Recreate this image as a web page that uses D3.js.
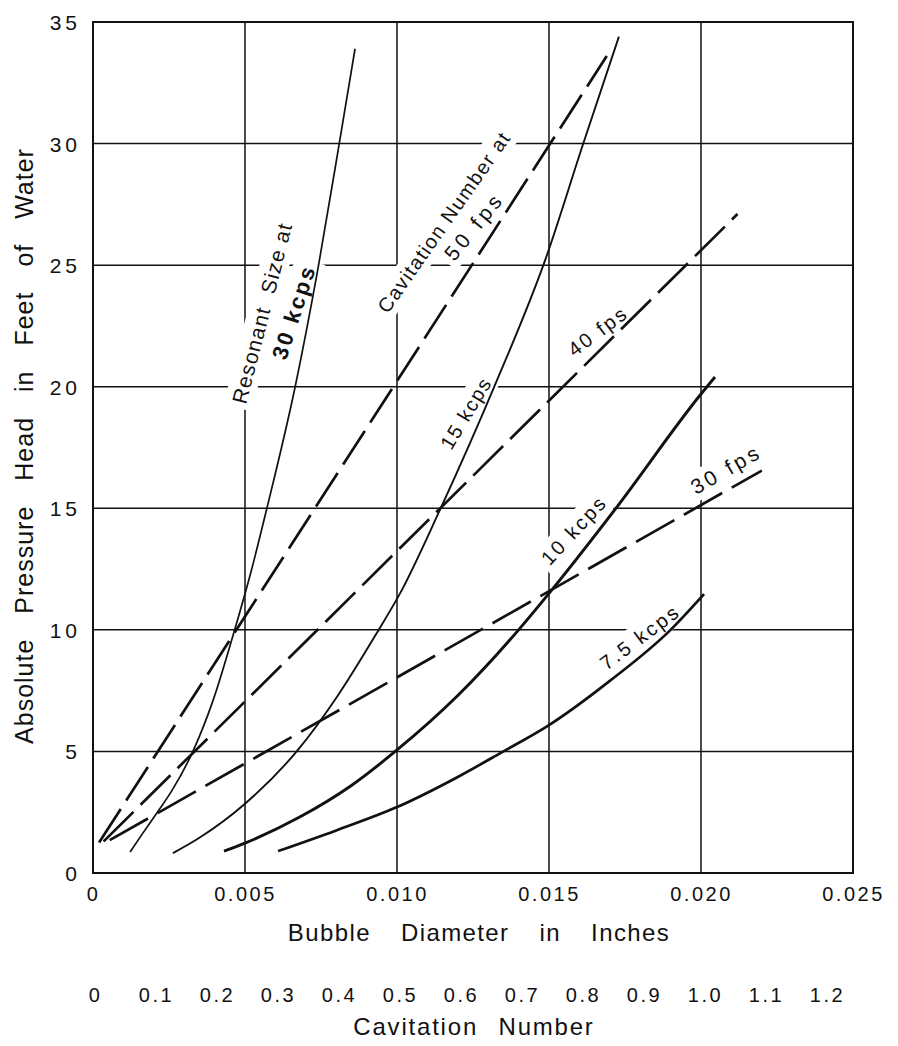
<!DOCTYPE html>
<html>
<head>
<meta charset="utf-8">
<script src="https://cdn.jsdelivr.net/npm/d3@7"></script>
<style>
  html, body { margin: 0; padding: 0; background: #fff; }
  svg { display: block; }
  text { font-family: "Liberation Sans", Arial, sans-serif; fill: #111; }
</style>
</head>
<body>
<svg id="chart" width="898" height="1046"></svg>
<script>
// ---- axis ticks -------------------------------------------------------
const diameterTicks = [0, 0.005, 0.010, 0.015, 0.020, 0.025];
const diameterTickLabels = ["0", "0.005", "0.010", "0.015", "0.020", "0.025"];
const headTicks = [0, 5, 10, 15, 20, 25, 30, 35];
const headTickLabels = ["0", "5", "10", "15", "20", "25", "30", "35"];
const cavitationTicks = [0, 0.1, 0.2, 0.3, 0.4, 0.5, 0.6, 0.7, 0.8, 0.9, 1.0, 1.1, 1.2];
const cavitationTickLabels = ["0", "0.1", "0.2", "0.3", "0.4", "0.5", "0.6", "0.7", "0.8", "0.9", "1.0", "1.1", "1.2"];

// ---- resonant bubble size (diameter in inches, head in ft of water) ----
const res30Diameter = [0.00122, 0.00164, 0.00210, 0.00260, 0.00326, 0.00395, 0.00466, 0.00520, 0.00572, 0.00665, 0.00742, 0.00810, 0.00862];
const res30Head     = [0.86, 1.64, 2.47, 3.4, 4.93, 7.1, 10.0, 12.4, 15.0, 20.0, 25.0, 30.0, 33.9];

const res15Diameter = [0.00263, 0.00350, 0.00500, 0.00670, 0.00800, 0.00930, 0.01010, 0.01140, 0.01320, 0.01490, 0.01610, 0.01730];
const res15Head     = [0.82, 1.45, 2.85, 5.0, 7.2, 9.8, 11.5, 14.9, 20.0, 25.3, 29.9, 34.4];

const res10Diameter = [0.00431, 0.00500, 0.00680, 0.00850, 0.01000, 0.01200, 0.01400, 0.01500, 0.01720, 0.02000, 0.02046];
const res10Head     = [0.90, 1.23, 2.3, 3.6, 5.06, 7.3, 10.0, 11.5, 15.0, 19.7, 20.4];

const res75Diameter = [0.00609, 0.00800, 0.01000, 0.01200, 0.01340, 0.01500, 0.01700, 0.01900, 0.02010];
const res75Head     = [0.90, 1.75, 2.71, 3.95, 4.93, 6.08, 7.9, 10.0, 11.47];

// ---- cavitation number lines (end points) -----------------------------
const cav50Diameter = [0.00020, 0.01690];
const cav50Head     = [1.25, 33.6];
const cav40Diameter = [0.00035, 0.02120];
const cav40Head     = [1.30, 27.1];
const cav30Diameter = [0.00055, 0.02200];
const cav30Head     = [1.35, 16.55];

// ---- curve labels -------------------------------------------------------
const curveLabels = ["Resonant  Size at", "30 kcps", "Cavitation Number at", "50 fps", "15 kcps",
                     "40 fps", "10 kcps", "30 fps", "7.5 kcps"];

// ---- layout -------------------------------------------------------------
const W = 898, H = 1046;
const plot = { left: 93, right: 853, top: 22, bottom: 873 };

const svg = d3.select("#chart");
const x = d3.scaleLinear().domain([0, 0.025]).range([plot.left, plot.right]);
const y = d3.scaleLinear().domain([0, 35]).range([plot.bottom, plot.top]);
const xCav = d3.scaleLinear().domain([0, 1.2]).range([95, 827]);

const ink = "#111";

// label placement: [cx, cy, angle, fontSize, letterSpacing, weight]
const labelLayout = [
  [262, 313, -75.5, 21, 1.2, "normal"],
  [294, 312, -72, 22, 2.5, "bold"],
  [444, 222, -55, 20, 1.4, "normal"],
  [474, 226, -51, 21, 4, "normal"],
  [466, 413, -59, 20, 1.6, "normal"],
  [598, 331, -37, 20, 2.5, "normal"],
  [574, 530, -47, 20, 2.5, "normal"],
  [726, 469, -30, 21, 3.5, "normal"],
  [640, 637, -37, 20, 2.5, "normal"]
];

// mask so the grid is interrupted behind the curve labels
const defs = svg.append("defs");
const mask = defs.append("mask").attr("id", "gridMask")
  .attr("maskUnits", "userSpaceOnUse").attr("x", 0).attr("y", 0).attr("width", W).attr("height", H);
mask.append("rect").attr("x", 0).attr("y", 0).attr("width", W).attr("height", H).attr("fill", "#fff");

// ---- grid ---------------------------------------------------------------
const grid = svg.append("g").attr("mask", "url(#gridMask)")
  .attr("stroke", ink).attr("stroke-width", 1.5);
grid.selectAll(".vgrid").data(diameterTicks.slice(1, -1)).join("line")
  .attr("x1", d => x(d)).attr("x2", d => x(d))
  .attr("y1", y(35)).attr("y2", y(0));
grid.selectAll(".hgrid").data(headTicks.slice(1, -1)).join("line")
  .attr("x1", x(0)).attr("x2", x(0.025))
  .attr("y1", d => y(d)).attr("y2", d => y(d));

// frame
svg.append("rect")
  .attr("x", x(0)).attr("y", y(35))
  .attr("width", x(0.025) - x(0)).attr("height", y(0) - y(35))
  .attr("fill", "none").attr("stroke", ink).attr("stroke-width", 2);

// ---- curves -------------------------------------------------------------
const zip = (xs, ys) => xs.map((d, i) => [d, ys[i]]);
const smooth = d3.line().x(d => x(d[0])).y(d => y(d[1])).curve(d3.curveMonotoneX);
const straight = d3.line().x(d => x(d[0])).y(d => y(d[1]));

const curves = [
  { pts: zip(res30Diameter, res30Head), w: 1.7, dash: null, gen: smooth },
  { pts: zip(res15Diameter, res15Head), w: 1.9, dash: null, gen: smooth },
  { pts: zip(res10Diameter, res10Head), w: 2.9, dash: null, gen: smooth },
  { pts: zip(res75Diameter, res75Head), w: 2.7, dash: null, gen: smooth },
  { pts: zip(cav50Diameter, cav50Head), w: 2.7, dash: "40 10", gen: straight },
  { pts: zip(cav40Diameter, cav40Head), w: 2.7, dash: "42 10", gen: straight },
  { pts: zip(cav30Diameter, cav30Head), w: 2.7, dash: "44 11", gen: straight }
];
svg.append("g").selectAll("path").data(curves).join("path")
  .attr("d", d => d.gen(d.pts))
  .attr("fill", "none").attr("stroke", ink)
  .attr("stroke-width", d => d.w)
  .attr("stroke-linecap", "butt")
  .attr("stroke-dasharray", d => d.dash);

// ---- curve labels ------------------------------------------------------
const labels = svg.append("g");
curveLabels.forEach((txt, i) => {
  const [cx, cy, ang, fs, ls, fw] = labelLayout[i];
  const t = labels.append("text")
    .attr("transform", `translate(${cx},${cy}) rotate(${ang})`)
    .attr("text-anchor", "middle").attr("dominant-baseline", "central")
    .attr("font-size", fs).attr("letter-spacing", ls).attr("font-weight", fw)
    .style("white-space", "pre")
    .text(txt);
  const b = t.node().getBBox();
  mask.append("rect")
    .attr("transform", `translate(${cx},${cy}) rotate(${ang})`)
    .attr("x", b.x - 5).attr("y", b.y - 3)
    .attr("width", b.width + 10).attr("height", b.height + 6)
    .attr("fill", "#000");
});

// ---- axes ---------------------------------------------------------------
const fontStack = '"Liberation Sans", Arial, sans-serif';

const xAxis = d3.axisBottom(x).tickValues(diameterTicks)
  .tickFormat((d, i) => diameterTickLabels[i]).tickSize(0).tickPadding(0);
const gx = svg.append("g").attr("transform", `translate(0, ${plot.bottom + 28})`).call(xAxis);
gx.select(".domain").remove();
gx.selectAll("text").attr("dy", 0).attr("y", 0)
  .attr("font-size", 20).attr("letter-spacing", 2.5).attr("fill", ink)
  .style("font-family", fontStack);

const yAxis = d3.axisLeft(y).tickValues(headTicks)
  .tickFormat((d, i) => headTickLabels[i]).tickSize(0).tickPadding(0);
const gy = svg.append("g").attr("transform", `translate(${plot.left - 12}, 0)`).call(yAxis);
gy.select(".domain").remove();
gy.selectAll("text").attr("x", 0).attr("dy", "0.36em")
  .attr("font-size", 21).attr("letter-spacing", 4).attr("fill", ink)
  .style("font-family", fontStack);

const cavAxis = d3.axisBottom(xCav).tickValues(cavitationTicks)
  .tickFormat((d, i) => cavitationTickLabels[i]).tickSize(0).tickPadding(0);
const gc = svg.append("g").attr("transform", `translate(0, 1002)`).call(cavAxis);
gc.select(".domain").remove();
gc.selectAll("text").attr("dy", 0).attr("y", 0)
  .attr("font-size", 20).attr("letter-spacing", 2.5).attr("fill", ink)
  .style("font-family", fontStack);

// ---- axis titles --------------------------------------------------------
svg.append("text")
  .attr("x", 479).attr("y", 941)
  .attr("text-anchor", "middle").attr("font-size", 24)
  .attr("letter-spacing", 1.4).attr("word-spacing", 22)
  .text("Bubble Diameter in Inches");

svg.append("text")
  .attr("x", 474).attr("y", 1035)
  .attr("text-anchor", "middle").attr("font-size", 24)
  .attr("letter-spacing", 1.8).attr("word-spacing", 12)
  .text("Cavitation Number");

svg.append("text")
  .attr("transform", "translate(33, 446) rotate(-90)")
  .attr("text-anchor", "middle").attr("font-size", 25)
  .attr("letter-spacing", 1).attr("word-spacing", 17)
  .text("Absolute Pressure Head in Feet of Water");
</script>
</body>
</html>
